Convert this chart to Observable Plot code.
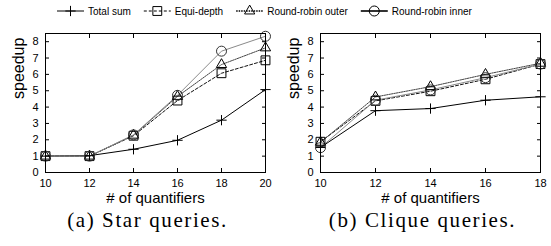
<!DOCTYPE html>
<html>
<head>
<meta charset="utf-8">
<script src="https://cdn.jsdelivr.net/npm/d3@7"></script>
<script src="https://cdn.jsdelivr.net/npm/@observablehq/plot@0.6"></script>
<style>
  html, body { margin: 0; padding: 0; background: #fff; }
  #root { position: relative; width: 551px; height: 246px; overflow: hidden; }
  #legend { position: absolute; left: 0; top: 0; }
  .panel { position: absolute; top: 0; }
</style>
</head>
<body>
<div id="root">
  <div id="pa" class="panel" style="left:0px"></div>
  <div id="pb" class="panel" style="left:275px"></div>
  <svg id="legend" width="551" height="24"></svg>
</div>
<script>
// ---- data ----
const seriesNames = ["Total sum", "Equi-depth", "Round-robin outer", "Round-robin inner"];
const seriesSymbols = ["plus", "square", "triangle", "circle"];

const starX = [10, 12, 14, 16, 18, 20];
const starTotal = [1.0, 1.03, 1.42, 1.97, 3.2, 5.07];
const starEqui  = [1.0, 1.0, 2.25, 4.4, 6.07, 6.86];
const starOuter = [1.0, 1.0, 2.28, 4.65, 6.6, 7.62];
const starInner = [1.0, 1.0, 2.3, 4.72, 7.42, 8.33];

const cliqueX = [10, 12, 14, 16, 18];
const cliqueTotal = [1.53, 3.78, 3.91, 4.42, 4.63];
const cliqueEqui  = [1.88, 4.38, 4.97, 5.7, 6.63];
const cliqueOuter = [1.85, 4.62, 5.25, 6.0, 6.68];
const cliqueInner = [1.52, 4.42, 5.05, 5.8, 6.63];

const xTicksStar = [10, 12, 14, 16, 18, 20];
const xTicksClique = [10, 12, 14, 16, 18];
const yTicks = [0, 1, 2, 3, 4, 5, 6, 7, 8];
const yLabel = "speedup";
const xLabel = "# of quantifiers";
const captions = ["(a) Star queries.", "(b) Clique queries."];

// ---- styles ----
const styles = [
  {stroke: "#000", dash: null, mstroke: "#000", r: 3.4},
  {stroke: "#111", dash: "3,2", mstroke: "#000", r: 5},
  {stroke: "#444", dash: "1.5,1", mstroke: "#000", r: 3.8},
  {stroke: "#8a8a8a", dash: null, mstroke: "#333", r: 5}
];

function rows(xs, ys) { return xs.map((x, i) => ({x, y: ys[i]})); }

function panel(xs, seriesArr, xTicks, caption) {
  const marks = [];
  seriesArr.forEach((ys, k) => {
    const st = styles[k];
    const data = rows(xs, ys);
    marks.push(Plot.line(data, {x: "x", y: "y", stroke: st.stroke, strokeWidth: 1, strokeDasharray: st.dash}));
  });
  seriesArr.forEach((ys, k) => {
    const st = styles[k];
    const data = rows(xs, ys);
    marks.push(Plot.dot(data, {x: "x", y: "y", symbol: () => seriesSymbols[k], r: st.r, fill: "none", stroke: st.mstroke, strokeWidth: 1}));
  });
  return Plot.plot({
    width: 276, height: 246,
    marginLeft: 45, marginRight: 11, marginTop: 33, marginBottom: 74,
    style: {fontFamily: "'Liberation Sans', Arial, sans-serif", fontSize: "11px", color: "#000", background: "transparent"},
    x: {domain: [xTicks[0], xTicks[xTicks.length - 1]]},
    y: {domain: [0, 8.5]},
    symbol: {type: "identity"},
    marks: [
      Plot.axisX({ticks: xTicks, tickSize: -4, tickPadding: 11, label: null, tickFormat: d => d}),
      Plot.axisX({anchor: "top", ticks: xTicks, tickSize: -4, label: null, tickFormat: () => ""}),
      Plot.axisY({ticks: yTicks, tickSize: -4, tickPadding: 11, label: null, tickFormat: d => d}),
      Plot.axisY({anchor: "right", ticks: yTicks, tickSize: -4, label: null, tickFormat: () => ""}),
      ...marks,
      Plot.frame({stroke: "#000", strokeWidth: 1}),
      Plot.text([yLabel], {frameAnchor: "left", rotate: -90, dx: -27, dy: -4, fontSize: 16, text: d => d}),
      Plot.text([xLabel], {frameAnchor: "bottom", dy: 30, fontSize: 15, text: d => d}),
      Plot.text([caption], {frameAnchor: "bottom", dy: 54, dx: -8, fontSize: 21, fontFamily: "'Liberation Serif', 'Times New Roman', serif", className: "cap", text: d => d})
    ]
  });
}

document.getElementById("pa").appendChild(panel(starX, [starTotal, starEqui, starOuter, starInner], xTicksStar, captions[0]));
document.getElementById("pb").appendChild(panel(cliqueX, [cliqueTotal, cliqueEqui, cliqueOuter, cliqueInner], xTicksClique, captions[1]));
document.querySelectorAll(".cap text").forEach(t => t.style.letterSpacing = "1.6px");

// ---- legend ----
const leg = d3.select("#legend");
let x0 = 57;
const ly = 11;
seriesNames.forEach((name, k) => {
  const st = styles[k];
  const g = leg.append("g");
  g.append("line").attr("x1", x0).attr("x2", x0 + 27).attr("y1", ly).attr("y2", ly)
    .attr("stroke", "#000").attr("stroke-width", k >= 2 ? 1.6 : 1)
    .attr("stroke-dasharray", st.dash);
  const sym = {plus: d3.symbolPlus, square: d3.symbolSquare, triangle: d3.symbolTriangle, circle: d3.symbolCircle}[seriesSymbols[k]];
  g.append("path").attr("transform", `translate(${x0 + 13.5},${ly})`)
    .attr("d", d3.symbol(sym, Math.PI * st.r * st.r)())
    .attr("fill", "none").attr("stroke", "#000");
  const t = g.append("text").attr("x", x0 + 31).attr("y", ly).attr("dy", "0.35em")
    .attr("font-family", "'Liberation Sans', Arial, sans-serif").attr("font-size", 10).text(name);
  x0 = x0 + 31 + t.node().getComputedTextLength() + 13;
});
</script>
</body>
</html>
